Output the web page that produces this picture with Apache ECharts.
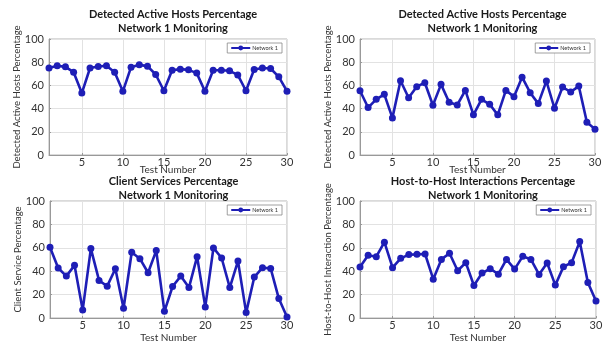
<!DOCTYPE html>
<html>
<head>
<meta charset="utf-8">
<script src="https://cdn.jsdelivr.net/npm/echarts@6/dist/echarts.min.js"></script>
<style>
html,body{margin:0;padding:0;background:#fff;}
#chart{width:614px;height:345px;}
</style>
</head>
<body>
<div id="chart"></div>
<script>
// Test numbers 1..30 shared by all four panels
const testNumbers = Array.from({length: 30}, (_, i) => String(i + 1));

// Panel values (percent)
const activeHostsA = [75, 77, 76, 71.4, 53.4, 75, 76.3, 77, 71.4, 54.9,
  75.7, 77.7, 76.6, 69.4, 55.4, 73, 74, 73.4, 70.6, 55,
  73, 73, 72.6, 69, 55.4, 73.7, 75, 74.6, 67.4, 55];
const activeHostsB = [55.4, 40.9, 48, 52.3, 32, 64, 49.4, 58.9, 62.3, 42.9,
  60.9, 45.4, 43.1, 55.7, 34.6, 48, 43.7, 34.6, 55.7, 50.3,
  67.1, 53.7, 44.3, 63.7, 40.3, 58.6, 54.3, 59.4, 28.3, 22.3];
const clientServices = [60.5, 42.7, 35.8, 45, 6.9, 59.3, 32.1, 27.2, 42.1, 8.3,
  56.2, 50.7, 38.7, 57.6, 5.7, 26.9, 35.8, 26, 52.4, 9.5,
  59.9, 51.3, 26, 48.7, 4.6, 35, 43, 42.4, 16.6, 0.9];
const hostInteractions = [43.6, 53.6, 52.4, 64.8, 43, 51, 54.2, 54.4, 54.7, 33.2,
  50.1, 55.3, 40.4, 47.3, 27.8, 38.4, 42.1, 37.5, 50.1, 41.8,
  52.7, 50.1, 37.2, 47, 28.1, 43.8, 47.3, 65.3, 30.4, 14.6];

const yTicks = [0, 20, 40, 60, 80, 100];
const seriesName = 'Network 1';

const panels = [
  {title: 'Detected Active Hosts Percentage\nNetwork 1 Monitoring', yName: 'Detected Active Hosts Percentage', data: activeHostsA,
   grid: {left: 49, right: 327, top: 39, height: 116}, titleTop: 2, nameGap: 10},
  {title: 'Detected Active Hosts Percentage\nNetwork 1 Monitoring', yName: 'Detected Active Hosts Percentage', data: activeHostsB,
   grid: {left: 360, right: 19, top: 39, height: 116}, titleTop: 2, nameGap: 10},
  {title: 'Client Services Percentage\nNetwork 1 Monitoring', yName: 'Client Service Percentage', data: clientServices,
   grid: {left: 50, right: 327, top: 201, height: 117}, titleTop: 169, nameGap: 15},
  {title: 'Host-to-Host Interactions Percentage\nNetwork 1 Monitoring', yName: 'Host-to-Host Interaction Percentage', data: hostInteractions,
   grid: {left: 360, right: 18, top: 201, height: 117}, titleTop: 169, nameGap: 15}
];

const FONT = 'Lato, "Open Sans", sans-serif';
const LINE = '#1e1eb6';
const every5 = (idx, val) => Number(val) % 5 === 0;

const option = {
  animation: false,
  backgroundColor: '#fff',
  title: panels.map(p => ({
    text: p.title,
    left: p.grid.left + (614 - p.grid.left - p.grid.right) / 2,
    top: p.titleTop,
    textAlign: 'center',
    textStyle: {fontFamily: FONT, fontWeight: 'bold', fontSize: 11, lineHeight: 14, color: '#1a1a1a'}
  })),
  legend: panels.map(p => ({
    data: [seriesName],
    right: p.grid.right + 5,
    top: p.grid.top + 4,
    orient: 'vertical',
    itemWidth: 19,
    itemHeight: 6,
    itemGap: 2,
    padding: [2, 4, 2, 3],
    borderColor: '#888',
    borderWidth: 0.8,
    backgroundColor: '#fff',
    textStyle: {fontFamily: FONT, fontSize: 5.5, color: '#333', padding: [0, 0, 0, -3]}
  })),
  grid: panels.map(p => Object.assign({show: true, borderColor: '#b5b5b5', borderWidth: 1, backgroundColor: 'transparent'}, p.grid)),
  xAxis: panels.map((p, i) => ({
    type: 'category',
    gridIndex: i,
    data: testNumbers,
    boundaryGap: false,
    name: 'Test Number',
    nameLocation: 'middle',
    nameGap: p.nameGap,
    nameMoveOverlap: false,
    nameTextStyle: {fontFamily: FONT, fontSize: 10, color: '#333'},
    axisLine: {show: true, lineStyle: {color: '#999'}},
    axisTick: {show: true, inside: true, length: 2, interval: every5, lineStyle: {color: '#999'}},
    axisLabel: {interval: every5, fontFamily: FONT, fontSize: 11, color: '#333', margin: 2},
    splitLine: {show: true, interval: every5, lineStyle: {color: '#e2e2e2'}}
  })),
  yAxis: panels.map((p, i) => ({
    type: 'value',
    gridIndex: i,
    min: yTicks[0],
    max: yTicks[yTicks.length - 1],
    interval: 20,
    name: p.yName,
    nameLocation: 'middle',
    nameGap: 27,
    nameMoveOverlap: false,
    nameTextStyle: {fontFamily: FONT, fontSize: 9.5, color: '#333'},
    axisLine: {show: true, lineStyle: {color: '#999'}},
    axisTick: {show: true, inside: true, length: 2, lineStyle: {color: '#999'}},
    axisLabel: {fontFamily: FONT, fontSize: 11, color: '#333', margin: 5},
    splitLine: {show: true, lineStyle: {color: '#e2e2e2'}}
  })),
  series: panels.map((p, i) => ({
    name: seriesName,
    type: 'line',
    xAxisIndex: i,
    yAxisIndex: i,
    data: p.data,
    symbol: 'circle',
    symbolSize: 7,
    showSymbol: true,
    showAllSymbol: true,
    lineStyle: {color: LINE, width: 2.6},
    itemStyle: {color: LINE}
  }))
};

const chart = echarts.init(document.getElementById('chart'), null, {renderer: 'canvas'});
chart.setOption(option);
</script>
</body>
</html>
